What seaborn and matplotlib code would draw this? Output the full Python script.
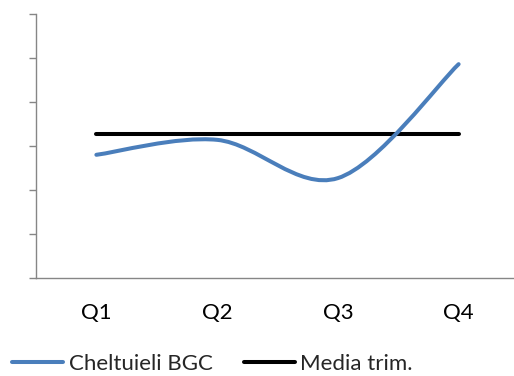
import numpy as np
import matplotlib
matplotlib.use("Agg")
import matplotlib.pyplot as plt
from matplotlib.path import Path
from matplotlib.patches import PathPatch
from matplotlib.lines import Line2D
import seaborn as sns

quarters = ["Q1", "Q2", "Q3", "Q4"]
cheltuieli = [2.80, 3.14, 2.27, 4.86]
media = [3.27, 3.27, 3.27, 3.27]

sns.set_theme(style="white")
plt.rcParams["font.family"] = ["Lato", "DejaVu Sans"]

W, H = 514, 376
fig = plt.figure(figsize=(W / 100, H / 100), dpi=100)
ax = fig.add_axes([36 / W, (H - 278) / H, (519 - 36) / W, 264 / H])

x = np.arange(len(quarters))
blue = "#4a7ebb"
axis_grey = "#868686"

# smoothed series: cubic Bezier segments (Catmull-Rom style control points)
pts = np.column_stack([x, cheltuieli]).astype(float)
ext = np.vstack([pts[0], pts, pts[-1]])
verts = [tuple(pts[0])]
codes = [Path.MOVETO]
for i in range(len(pts) - 1):
    p0, p1, p2, p3 = ext[i], ext[i + 1], ext[i + 2], ext[i + 3]
    c1 = p1 + (p2 - p0) / 6.0
    c2 = p2 - (p3 - p1) / 6.0
    verts += [tuple(c1), tuple(c2), tuple(p2)]
    codes += [Path.CURVE4] * 3
ax.add_patch(PathPatch(Path(verts, codes), facecolor="none", edgecolor=blue,
                       lw=2.9, capstyle="round", joinstyle="round", zorder=3))

sns.lineplot(x=x, y=media, ax=ax, color="black", lw=2.9, legend=False,
             solid_capstyle="round", zorder=2)

ax.set_xlim(-0.5, 3.5)
ax.set_ylim(0, 6)
ax.set_yticks(range(0, 7))
ax.set_yticklabels([])
ax.set_xticks(x)
ax.set_xticklabels(quarters, fontsize=16, color="black")
ax.set_xticks(np.arange(-0.5, 3.6, 1), minor=True)
ax.tick_params(axis="x", which="major", length=0, pad=18)
ax.tick_params(axis="x", which="minor", length=5, width=1, color=axis_grey, direction="out")
ax.tick_params(axis="y", length=5, width=1, color=axis_grey, direction="out", left=True)
for side in ["top", "right"]:
    ax.spines[side].set_visible(False)
for side in ["left", "bottom"]:
    ax.spines[side].set_color(axis_grey)
    ax.spines[side].set_linewidth(1)
ax.grid(False)

handles = [Line2D([], [], color=blue, lw=2.9, solid_capstyle="round"),
           Line2D([], [], color="black", lw=2.9, solid_capstyle="round")]
fig.legend(handles, ["Cheltuieli BGC", "Media trim."], loc="center left",
           bbox_to_anchor=(12 / W, 1 - 364 / H), ncol=2, frameon=False,
           fontsize=16, handlelength=2.3, handletextpad=0.25, columnspacing=1.4,
           borderaxespad=0, borderpad=0)

fig.savefig("out.png", dpi=100)
